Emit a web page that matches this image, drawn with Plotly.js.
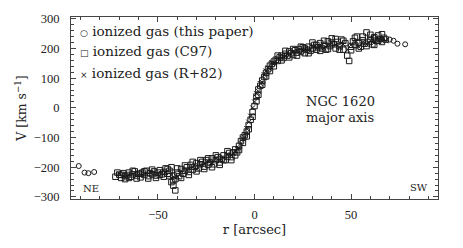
<!DOCTYPE html>
<html><head><meta charset="utf-8">
<script src="https://cdn.plot.ly/plotly-3.0.1.min.js"></script>
<style>html,body{margin:0;padding:0;background:#fff}#chart{width:463px;height:248px}</style>
</head><body><div id="chart"></div>
<script>
// ionized gas (this paper) - circles
const rThis = [-91, -88, -86, -83, 62, 66, 70, 72, 74, 78];
const vThis = [-196, -218, -220, -216, 236, 232, 230, 226, 216, 214];

// ionized gas (C97) - squares
const rC97 = [-72,-70,-69,-68,-67,-66,-65,-64,-63,-62,-61,-60,-59,-58,-57,-56,-55,-54,-53,-52,-51,-50,-49,-48,-47,-46,-45,-44,-43,-42,-42,-41,-41,-40,-39,-38,-37,-36,-35,-34,-33,-32,-31,-30,-29,-28,-27,-26,-25,-24,-23,-22,-21,-20,-19,-18,-17,-16,-15,-14,-13,-12,-11,-10,-9,-8,-7,-6,-5,-4,-3,-2,-1,0,1,2,3,4,5,6,7,8,9,10,11,12,13,14,15,16,17,18,19,20,21,22,23,24,25,26,27,28,29,30,31,32,33,34,35,36,37,38,39,40,41,42,43,44,45,46,47,48,49,50,51,52,53,54,55,56,57,58,59,60,61,62,63,64,65,66,67,68,
  -71,-69,-67,-65,-63,-61,-59,-57,-55,-53,-51,-49,-47,-45,-44,-43,-42,-40,-38,-36,-34,-32,-30,-28,-26,-24,-22,-20,-18,-16,-14,-12,-10,-8,-6,-4,-3,-1,1,2,4,6,8,10,12,14,16,18,20,22,24,26,28,30,32,34,36,38,40,42,44,46,50,52,54,56,58,60,62,64,66];
const vC97 = [-232,-225,-236,-220,-230,-226,-218,-232,-224,-214,-228,-222,-234,-218,-226,-212,-230,-220,-224,-214,-228,-218,-210,-224,-216,-204,-222,-212,-200,-228,-262,-278,-240,-218,-230,-206,-222,-212,-200,-216,-192,-208,-198,-186,-204,-190,-182,-198,-176,-192,-184,-170,-190,-176,-166,-184,-172,-160,-176,-164,-152,-166,-150,-140,-150,-128,-112,-118,-92,-80,-58,-40,-14,6,38,62,74,92,104,118,130,142,148,156,162,158,170,176,168,182,176,190,184,178,194,186,198,190,204,184,196,206,192,200,212,196,204,218,200,212,196,224,208,234,214,200,222,208,230,196,218,176,158,206,224,212,240,218,206,228,216,254,222,232,214,238,226,244,232,248,236,230,
  -218,-226,-240,-236,-212,-238,-222,-214,-238,-208,-236,-226,-232,-206,-230,-250,-244,-204,-236,-194,-226,-182,-214,-176,-206,-170,-200,-160,-192,-176,-146,-176,-160,-142,-100,-96,-72,-30,22,44,78,106,124,140,176,160,192,170,198,176,206,200,184,220,212,192,226,198,220,232,196,226,194,236,200,240,208,246,212,226,222];

// ionized gas (R+82) - crosses
const rR82 = [-70,-66,-62,-58,-54,-50,-46,-43,-40,-38,-35,-32,-30,-28,-26,-24,-22,-20,-18,-16,-14,-12,-10,-9,-8,-7,-6,-5,-4,-3,-2,-1,0,1,2,3,4,5,6,7,8,9,10,12,14,16,18,20,22,24,26,28,30,32,34,36,38,40,42,44,46,48,50,52,54,56,58,60,62,64,66,68];
const vR82 = [-222,-230,-220,-226,-216,-224,-218,-226,-232,-214,-210,-200,-206,-196,-188,-180,-186,-168,-174,-168,-156,-160,-148,-138,-136,-120,-104,-100,-70,-48,-28,0,20,48,56,82,86,112,124,136,132,152,150,166,170,176,180,188,192,184,198,194,208,200,206,202,210,218,212,204,214,196,212,220,206,220,214,226,220,228,234,226];

const legendLabels = ['ionized gas (this paper)', 'ionized gas (C97)', 'ionized gas (R+82)'];
const legendGlyphs = ['○', '□', '×'];

const ink = '#1a1a1a';
const serif = 'DejaVu Serif, serif';
const tickSerif = 'Liberation Serif, serif';

const mk = (sym, sz) => ({symbol: sym, size: sz, color: ink, line: {color: ink, width: 1}});

const traces = [
  {x: rC97, y: vC97, mode: 'markers', type: 'scatter', name: legendLabels[1], marker: mk('square-open', 5.5)},
  {x: rR82, y: vR82, mode: 'markers', type: 'scatter', name: legendLabels[2], marker: mk('x-thin-open', 5)},
  {x: rThis, y: vThis, mode: 'markers', type: 'scatter', name: legendLabels[0], marker: mk('circle-open', 5)}
];

const axisCommon = {
  showline: true, linecolor: '#444', linewidth: 1, mirror: 'allticks',
  ticks: 'inside', ticklen: 5, tickwidth: 1, tickcolor: '#444',
  showgrid: false, zeroline: false,
  tickfont: {family: tickSerif, size: 12.5, color: '#222'}
};

const legendY = [0.924, 0.815, 0.690];
const annotations = legendLabels.map((t, i) => ({
  xref: 'paper', yref: 'paper', x: 0.02, y: legendY[i], xanchor: 'left', yanchor: 'middle',
  text: '<span style="font-size:9px">' + legendGlyphs[i] + '</span> ' + t,
  showarrow: false, font: {family: serif, size: 13.5, color: '#222'}
}));
annotations.push(
  {xref: 'paper', yref: 'paper', x: 0.733, y: 0.538, xanchor: 'center', yanchor: 'middle', text: 'NGC 1620', showarrow: false, font: {family: serif, size: 13, color: '#222'}},
  {xref: 'paper', yref: 'paper', x: 0.733, y: 0.446, xanchor: 'center', yanchor: 'middle', text: 'major axis', showarrow: false, font: {family: serif, size: 13, color: '#222'}},
  {xref: 'paper', yref: 'paper', x: 0.027, y: 0.057, xanchor: 'left', yanchor: 'middle', text: 'NE', showarrow: false, font: {family: serif, size: 10, color: '#222'}},
  {xref: 'paper', yref: 'paper', x: 0.978, y: 0.065, xanchor: 'right', yanchor: 'middle', text: 'SW', showarrow: false, font: {family: serif, size: 10, color: '#222'}}
);

const layout = {
  width: 463, height: 248,
  margin: {l: 71, r: 25, t: 15, b: 49},
  paper_bgcolor: '#fff', plot_bgcolor: '#fff',
  showlegend: false,
  xaxis: Object.assign({}, axisCommon, {
    range: [-95, 95], tickvals: [-50, 0, 50], ticklabelstandoff: 4,
    minor: {dtick: 10, tick0: 0, ticks: 'inside', ticklen: 3, tickcolor: '#444', showgrid: false},
    title: {text: 'r [arcsec]', font: {family: serif, size: 13, color: '#222'}, standoff: 3}
  }),
  yaxis: Object.assign({}, axisCommon, {
    range: [-307, 306], tickvals: [-300, -200, -100, 0, 100, 200, 300], ticklabelstandoff: 8,
    automargin: true,
    minor: {dtick: 20, tick0: 0, ticks: 'inside', ticklen: 3, tickcolor: '#444', showgrid: false},
    title: {text: 'V [km s<sup>−1</sup>]', font: {family: serif, size: 12.5, color: '#222'}, standoff: 4}
  }),
  annotations: annotations
};

Plotly.newPlot('chart', traces, layout, {staticPlot: true, displayModeBar: false});
</script></body></html>
